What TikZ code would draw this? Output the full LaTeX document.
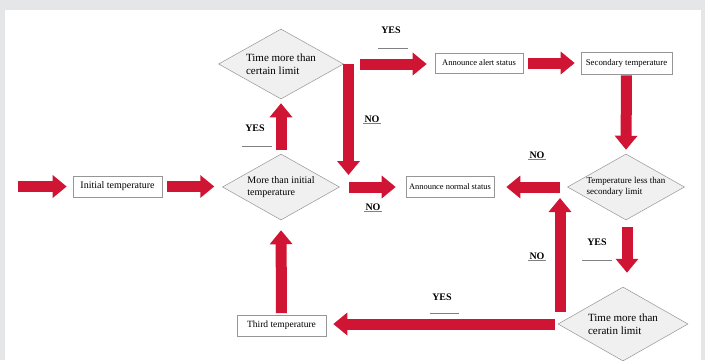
\documentclass[tikz,border=0pt]{standalone}
\usepackage{fontspec}
\setmainfont{Liberation Serif}
\usetikzlibrary{shapes.geometric,arrows.meta,shadows}
\definecolor{arrowred}{RGB}{208,20,52}
\definecolor{bggrey}{RGB}{229,230,232}
\definecolor{boxline}{RGB}{150,150,150}
\definecolor{diafill}{RGB}{240,240,240}
\begin{document}
\begin{tikzpicture}[x=1pt,y=-1pt,
  procbox/.style={draw=boxline, fill=white, line width=0.6pt, inner sep=0pt,
    drop shadow={opacity=0.25, shadow xshift=1pt, shadow yshift=-1pt}},
  decision/.style={diamond, draw=boxline, fill=diafill, line width=0.5pt, inner sep=0pt,
    aspect=1.8, align=left},
  flow/.style={draw=arrowred, line width=11pt, -{Triangle[length=14pt,width=22pt]}},
  lbl/.style={font=\bfseries\fontsize{10}{11}\selectfont, inner sep=1pt},
  rulegrey/.style={draw=gray, line width=0.6pt}
]
\fill[bggrey] (0,0) rectangle (705,360);
\fill[white] (5,10) rectangle (701,360);
\useasboundingbox (0,0) rectangle (705,360);

% process boxes
\node[procbox, minimum width=89pt, minimum height=21pt, font=\fontsize{10}{11}\selectfont]
  (init) at (117.5,186.5) {Initial temperature};
\node[procbox, minimum width=88pt, minimum height=20pt, font=\fontsize{8.5}{10}\selectfont]
  (alert) at (479,63) {Announce alert status};
\node[procbox, minimum width=91pt, minimum height=22pt, font=\fontsize{8.8}{10}\selectfont]
  (sec) at (626.5,63) {Secondary temperature};
\node[procbox, minimum width=88pt, minimum height=21pt, font=\fontsize{8.4}{10}\selectfont]
  (normal) at (450,186.5) {Announce normal status};
\node[procbox, minimum width=89pt, minimum height=21pt, font=\fontsize{9.5}{11}\selectfont]
  (third) at (281.5,325.5) {Third temperature};

% decisions
\node[decision, minimum width=125pt, minimum height=70pt, font=\fontsize{11}{13}\selectfont]
  (tdia) at (281,64) {Time more than\\certain limit};
\node[decision, minimum width=117pt, minimum height=66pt, font=\fontsize{10}{11.5}\selectfont]
  (mdia) at (281,187) {More than initial\\temperature};
\node[decision, minimum width=117pt, minimum height=66pt, font=\fontsize{9}{10.5}\selectfont]
  (rdia) at (626,187) {Temperature less than\\secondary limit};
\node[decision, minimum width=130pt, minimum height=74pt, font=\fontsize{11}{13}\selectfont]
  (bdia) at (623,324) {Time more than\\ceratin limit};

% free ends
\coordinate (start) at (18,186.5);
\coordinate (njoin) at (348.5,175);
\coordinate (uptip) at (560,198);

% connectors
\draw[flow, shorten >=6pt] (start) -- (init.west);
\draw[flow, shorten <=5pt, shorten >=8pt] (init.east) -- (init.east -| mdia.west);
\draw[flow, shorten <=4pt, shorten >=4pt] (mdia.north) -- (tdia.south);
\draw[flow, shorten <=16pt, shorten >=8pt] (tdia.east) -- (tdia.east -| alert.west);
\draw[flow] (tdia.east -| njoin) -- (njoin);
\draw[flow, shorten <=9.5pt, shorten >=10pt] (mdia.east) -- (mdia.east -| normal.west);
\draw[flow, shorten <=5pt, shorten >=6pt] (alert.east) -- (sec.west);
\draw[flow, shorten <=1pt, shorten >=4pt] (sec.south) -- (rdia.north);
\draw[flow, shorten <=7.5pt, shorten >=12pt] (rdia.west) -- (rdia.west -| normal.east);
\draw[flow, shorten <=7pt, shorten >=14pt] ([xshift=1pt]rdia.south) -- ([xshift=1pt]rdia.south |- bdia.north);
\draw[flow, shorten <=3pt, shorten >=7pt] (bdia.west) -- (bdia.west -| third.east);
\draw[flow, shorten <=12pt] (bdia.west -| uptip) -- (uptip);
\draw[flow, shorten <=1.5pt, shorten >=10pt] (third.north) -- (mdia.south);

% labels
\node[lbl] (yes1) at (255,128) {YES};
\draw[rulegrey] ([xshift=-13pt,yshift=-18pt]yes1.center) -- ([xshift=17pt,yshift=-18pt]yes1.center);
\node[lbl] (yes2) at (391,30) {YES};
\draw[rulegrey] ([xshift=-13pt,yshift=-18pt]yes2.center) -- ([xshift=17pt,yshift=-18pt]yes2.center);
\node[lbl] (yes3) at (597,242) {YES};
\draw[rulegrey] ([xshift=-15pt,yshift=-18pt]yes3.center) -- ([xshift=15pt,yshift=-18pt]yes3.center);
\node[lbl] (yes4) at (442,297) {YES};
\draw[rulegrey] ([xshift=-12pt,yshift=-16pt]yes4.center) -- ([xshift=17pt,yshift=-16pt]yes4.center);

\node[lbl] (no1) at (372,119) {NO};
\draw[rulegrey] (no1.south west) -- (no1.south east);
\node[lbl] (no2) at (373,207) {NO};
\draw[rulegrey] (no2.south west) -- (no2.south east);
\node[lbl] (no3) at (537,155) {NO};
\draw[rulegrey] (no3.south west) -- (no3.south east);
\node[lbl] (no4) at (537,256) {NO};
\draw[rulegrey] (no4.south west) -- (no4.south east);
\end{tikzpicture}
\end{document}
